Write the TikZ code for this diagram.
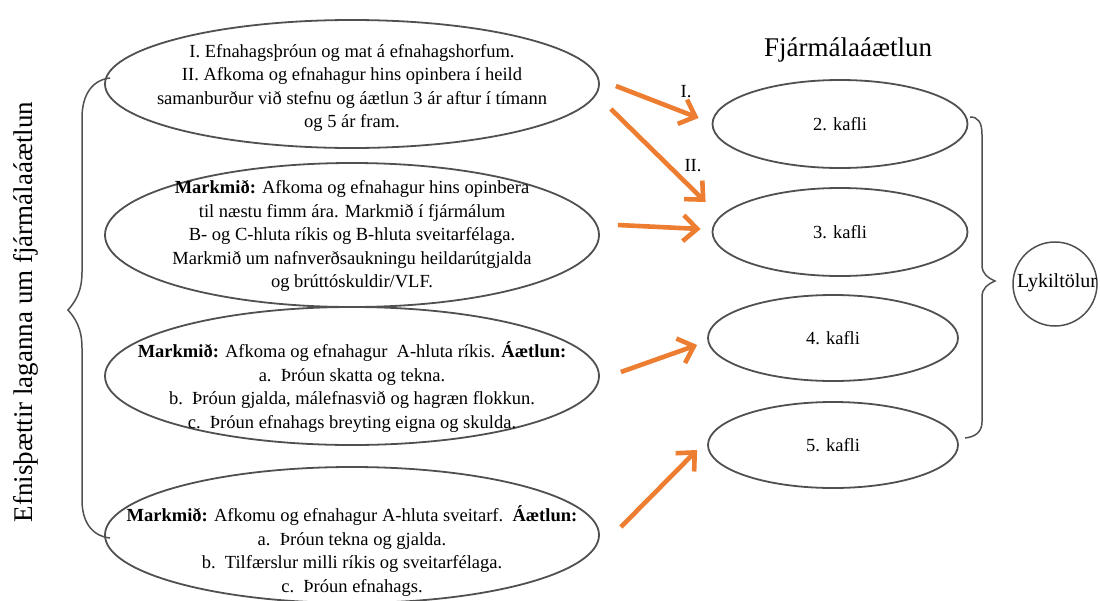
\documentclass[tikz,border=0pt]{standalone}
\usepackage{fontspec}
\setmainfont{Liberation Serif}
\usetikzlibrary{shapes.geometric,arrows.meta,calc}
\definecolor{arr}{RGB}{237,125,49}
\definecolor{edge}{RGB}{80,80,80}
\begin{document}
\begin{tikzpicture}[x=1pt,y=-1pt,
  bigell/.style={ellipse, draw=edge, line width=1.8pt, minimum width=494pt, inner sep=0pt},
  kafell/.style={ellipse, draw=edge, line width=1.8pt, inner sep=0pt},
  txt/.style={align=center, font=\fontsize{18.5}{23.5}\selectfont, inner sep=0pt},
  ktxt/.style={font=\fontsize{18.5}{20}\selectfont, inner sep=0pt},
  oarrow/.style={draw=arr, line width=4.6pt, -{Straight Barb[length=14pt,width=26pt]}},
  bracepath/.style={draw=edge, line width=1.5pt},
]
\useasboundingbox (0,0) rectangle (1100,600);

% left ellipses
\node[bigell, minimum height=128pt] (e1) at (352,84) {};
\node[bigell, minimum height=144pt] (e2) at (352,235) {};
\node[bigell, minimum height=138pt] (e3) at (352,376) {};
\node[bigell, minimum height=136pt] (e4) at (352,535) {};

\node[txt] (t1) at (352,88) {I. Efnahagsþróun og mat á efnahagshorfum.\\
II. Afkoma og efnahagur hins opinbera í heild\\
samanburður við stefnu og áætlun 3 ár aftur í tímann\\
og 5 ár fram.};
\node[txt] (t2) at (352,236) {\textbf{Markmið:} Afkoma og efnahagur hins opinbera\\
til næstu fimm ára. Markmið í fjármálum\\
B- og C-hluta ríkis og B-hluta sveitarfélaga.\\
Markmið um nafnverðsaukningu heildarútgjalda\\
og brúttóskuldir/VLF.};
\node[txt] (t3) at (352,387) {\textbf{Markmið:} Afkoma og efnahagur\ \ A-hluta ríkis. \textbf{Áætlun:}\\
a.\ \ Þróun skatta og tekna.\\
b.\ \ Þróun gjalda, málefnasvið og hagræn flokkun.\\
c.\ \ Þróun efnahags breyting eigna og skulda.};
\node[txt] (t4) at (352,551) {\textbf{Markmið:} Afkomu og efnahagur A-hluta sveitarf.\ \ \textbf{Áætlun:}\\
a.\ \ Þróun tekna og gjalda.\\
b.\ \ Tilfærslur milli ríkis og sveitarfélaga.\\
c.\ \ Þróun efnahags.};

% right ellipses
\node[font=\fontsize{27}{30}\selectfont, inner sep=0pt] (title) at (848,50) {Fjármálaáætlun};
\node[kafell, minimum width=255pt, minimum height=88pt] (k2) at (840,124) {};
\node[kafell, minimum width=255pt, minimum height=88pt] (k3) at (840,232) {};
\node[kafell, minimum width=250pt, minimum height=86pt] (k4) at (833,338) {};
\node[kafell, minimum width=250pt, minimum height=86pt] (k5) at (833,445) {};
\node[ktxt] at (k2) {2. kafli};
\node[ktxt] at (k3) {3. kafli};
\node[ktxt] at (k4) {4. kafli};
\node[ktxt] at (k5) {5. kafli};

% Lykiltolur
\node[circle, draw=edge, line width=1.5pt, minimum size=84pt, inner sep=0pt] (lyk) at (1055,284) {};
\node[font=\fontsize{20}{22}\selectfont, inner sep=0pt] (lyktxt) at (1057,283) {Lykiltölur};

% side text
\node[rotate=90, font=\fontsize{27}{30}\selectfont, inner sep=0pt] (side) at (26,312) {Efnisþættir laganna um fjármálaáætlun};

% arrows
\draw[oarrow] ($(e1.east)+(16,2)$) -- ($(k2.west)+(-13,-6)$);
\draw[oarrow] ($(e1.east)+(11,25)$) -- ($(k3.west)+(-6,-30)$);
\draw[oarrow] ($(e2.east)+(18,-10)$) -- ($(k3.west)+(-11,-3)$);
\draw[oarrow] ($(e3.east)+(21,-4)$) -- ($(k4.west)+(-10,7)$);
\draw[oarrow] ($(e4.east)+(21,-8)$) -- ($(k5.west)+(-10,5)$);
\node[ktxt] (l1) at (686,92) {I.};
\node[ktxt] (l2) at (693,166) {II.};

% left brace
\draw[bracepath] (110,78) .. controls (92,80) and (82,95) .. (82,118) -- (82,272)
  .. controls (82,292) and (75,302) .. (68,310) .. controls (75,318) and (82,328) .. (82,348)
  -- (82,500) .. controls (82,522) and (92,536) .. (110,538);
% right brace
\draw[bracepath] (970,117) .. controls (978,117) and (982,122) .. (982,135) -- (982,265)
  .. controls (982,274) and (988,278) .. (995,281) .. controls (988,284) and (982,288) .. (982,297)
  -- (982,422) .. controls (982,432) and (975,437) .. (965,438);
\end{tikzpicture}
\end{document}
